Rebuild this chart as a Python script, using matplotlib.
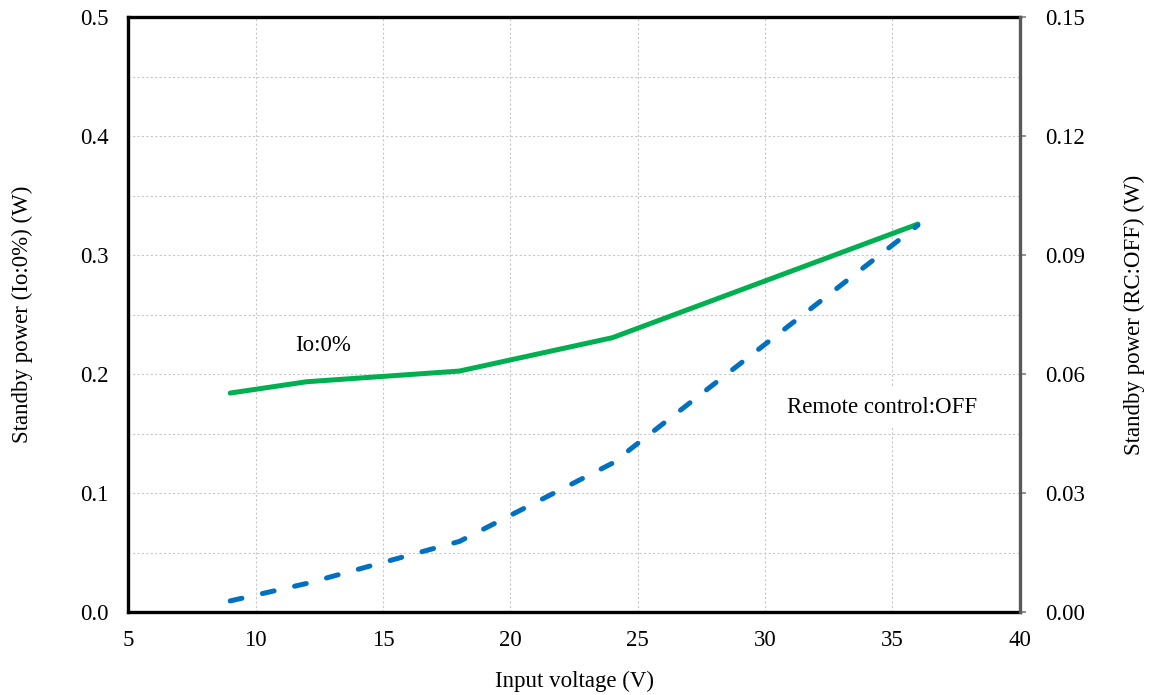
import matplotlib.pyplot as plt
from matplotlib.ticker import MultipleLocator

plt.rcParams['font.family'] = ['Liberation Serif', 'DejaVu Serif']

# input voltage sweep (V)
vin = [9, 12, 18, 24, 36]
# standby power, Io:0% (W) - left axis
p_io0 = [0.184, 0.1935, 0.2025, 0.2305, 0.326]
# standby power, remote control OFF (W) - right axis
p_rc_off = [0.0028, 0.0072, 0.0178, 0.0375, 0.0975]

FS = 16.5

fig = plt.figure(figsize=(11.51, 6.95), dpi=100)
ax = fig.add_axes([0.1115, 0.1194, 0.7745, 0.8561])
ax2 = ax.twinx()

ax.set_xlim(5, 40)
ax.set_ylim(0, 0.5)
ax2.set_ylim(0, 0.15)

ax.xaxis.set_major_locator(MultipleLocator(5))
ax.yaxis.set_major_locator(MultipleLocator(0.1))
ax.yaxis.set_minor_locator(MultipleLocator(0.05))
ax2.yaxis.set_major_locator(MultipleLocator(0.03))
ax.yaxis.set_major_formatter('{x:.1f}')
ax2.yaxis.set_major_formatter('{x:.2f}')

grid_kw = dict(color='#c8c8c8', linestyle=(0, (2, 2)), linewidth=0.8)
ax.grid(True, axis='x', which='major', **grid_kw)
ax.grid(True, axis='y', which='both', **grid_kw)
ax.set_axisbelow(True)

ax.plot(vin, p_io0, color='#00b050', linewidth=3.6, solid_capstyle='round', zorder=3)
ax2.plot(vin, p_rc_off, color='#0070c0', linewidth=3.6,
         linestyle=(0, (2.4, 4.2)), dash_capstyle='round', zorder=3)

ax.text(11.55, 0.224, 'Io:0%', fontsize=FS, va='center', ha='left')
ax.text(30.85, 0.172, 'Remote control:OFF', fontsize=FS, va='center', ha='left',
        bbox=dict(facecolor='white', edgecolor='none', pad=7))

for side in ['left', 'bottom', 'top']:
    ax.spines[side].set_linewidth(2.4)
    ax.spines[side].set_color('black')
    ax2.spines[side].set_visible(False)
ax.spines['right'].set_visible(False)
ax2.spines['right'].set_linewidth(2.4)
ax2.spines['right'].set_color('#595959')

ax.tick_params(axis='both', which='both', length=0, labelsize=FS, pad=13)
ax.tick_params(axis='y', pad=14)
ax2.tick_params(axis='y', which='major', length=4, width=1.2, color='#808080',
                direction='out', labelsize=FS, pad=14)

ax.set_xlabel('Input voltage (V)', fontsize=FS, labelpad=14)
ax.set_ylabel('Standby power (Io:0%) (W)', fontsize=FS, labelpad=34)
ax2.set_ylabel('Standby power (RC:OFF) (W)', fontsize=FS, labelpad=28)

fig.savefig('out.png', dpi=100)
